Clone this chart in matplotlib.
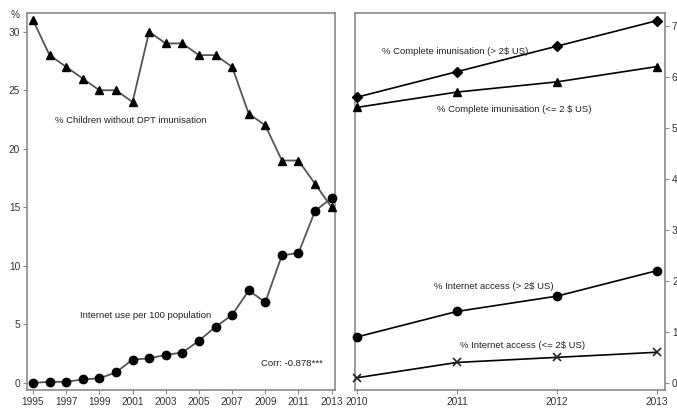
import matplotlib
matplotlib.use("Agg")
import matplotlib.pyplot as plt

years = list(range(1995, 2014))
dpt_without = [31, 28, 27, 26, 25, 25, 24, 30, 29, 29, 28, 28, 27, 23, 22, 19, 19, 17, 15]
internet_use = [0.0, 0.1, 0.1, 0.3, 0.4, 0.9, 2.0, 2.1, 2.4, 2.6, 3.6, 4.8, 5.8, 7.9, 6.9, 10.9, 11.1, 14.7, 15.8]

years_r = [2010, 2011, 2012, 2013]
complete_rich = [56, 61, 66, 71]
complete_poor = [54, 57, 59, 62]
internet_rich = [9, 14, 17, 22]
internet_poor = [1, 4, 5, 6]

left_ticks = [1995, 1997, 1999, 2001, 2003, 2005, 2007, 2009, 2011, 2013]
left_yticks = [0, 5, 10, 15, 20, 25, 30]
right_yticks = [0, 10, 20, 30, 40, 50, 60, 70]

plt.rcParams['font.family'] = ['Liberation Sans', 'DejaVu Sans']
W, H = 677, 412
fig = plt.figure(figsize=(W / 100, H / 100), dpi=100)

def px_axes(l, t, r, b):
    return fig.add_axes([l / W, 1 - b / H, (r - l) / W, (b - t) / H])

frame_c = '#8a8a8a'
tick_c = '#333333'
txt_c = '#222222'
fs = 6.8

def style(ax):
    for s in ax.spines.values():
        s.set_color(frame_c)
        s.set_linewidth(1.2)
    ax.tick_params(colors=frame_c, labelcolor=tick_c, labelsize=7.3, length=3, width=0.8, direction='out', pad=2)

ax1 = px_axes(27, 13, 335, 390)
ax1.plot(years, dpt_without, color='#555555', lw=1.3, marker='^', ms=6, mfc='black', mec='black', clip_on=False, zorder=3)
ax1.plot(years, internet_use, color='#555555', lw=1.3, marker='o', ms=6, mfc='black', mec='black', clip_on=False, zorder=3)
ax1.set_xlim(1994.64, 2013.2)
ax1.set_ylim(-0.6, 31.6)
ax1.set_xticks(left_ticks)
ax1.set_xticklabels([str(y) for y in left_ticks])
ax1.set_yticks(left_yticks)
style(ax1)
ax1.text(-0.038, 0.995, '%', transform=ax1.transAxes, fontsize=7.3, color=tick_c, ha='center', va='center')
ax1.text(1996.35, 22.4, '% Children without DPT imunisation', fontsize=fs, color=txt_c, va='center', ha='left')
ax1.text(1997.85, 5.8, 'Internet use per 100 population', fontsize=fs, color=txt_c, va='center', ha='left')
ax1.text(2008.75, 1.7, 'Corr: -0.878***', fontsize=fs, color=txt_c, va='center', ha='left')

ax2 = px_axes(355, 13, 665, 390)
ax2.plot(years_r, complete_rich, color='black', lw=1.2, marker='D', ms=5, mfc='black', mec='black', clip_on=False, zorder=3)
ax2.plot(years_r, complete_poor, color='black', lw=1.2, marker='^', ms=6, mfc='black', mec='black', clip_on=False, zorder=3)
ax2.plot(years_r, internet_rich, color='black', lw=1.2, marker='o', ms=6, mfc='black', mec='black', clip_on=False, zorder=3)
ax2.plot(years_r, internet_poor, color='black', lw=1.2, marker='x', ms=5.5, mew=1.2, mec='#222222', clip_on=False, zorder=3)
ax2.set_xlim(2009.98, 2013.08)
ax2.set_ylim(-1.4, 72.5)
ax2.set_xticks(years_r)
ax2.set_yticks(right_yticks)
ax2.yaxis.tick_right()
style(ax2)
ax2.text(2010.25, 65.0, '% Complete imunisation (> 2$ US)', fontsize=fs, color=txt_c, va='center', ha='left')
ax2.text(2010.8, 53.5, '% Complete imunisation (<= 2 $ US)', fontsize=fs, color=txt_c, va='center', ha='left')
ax2.text(2010.77, 18.8, '% Internet access (> 2$ US)', fontsize=fs, color=txt_c, va='center', ha='left')
ax2.text(2011.03, 7.4, '% Internet access (<= 2$ US)', fontsize=fs, color=txt_c, va='center', ha='left')

fig.savefig('out.png', dpi=100)
